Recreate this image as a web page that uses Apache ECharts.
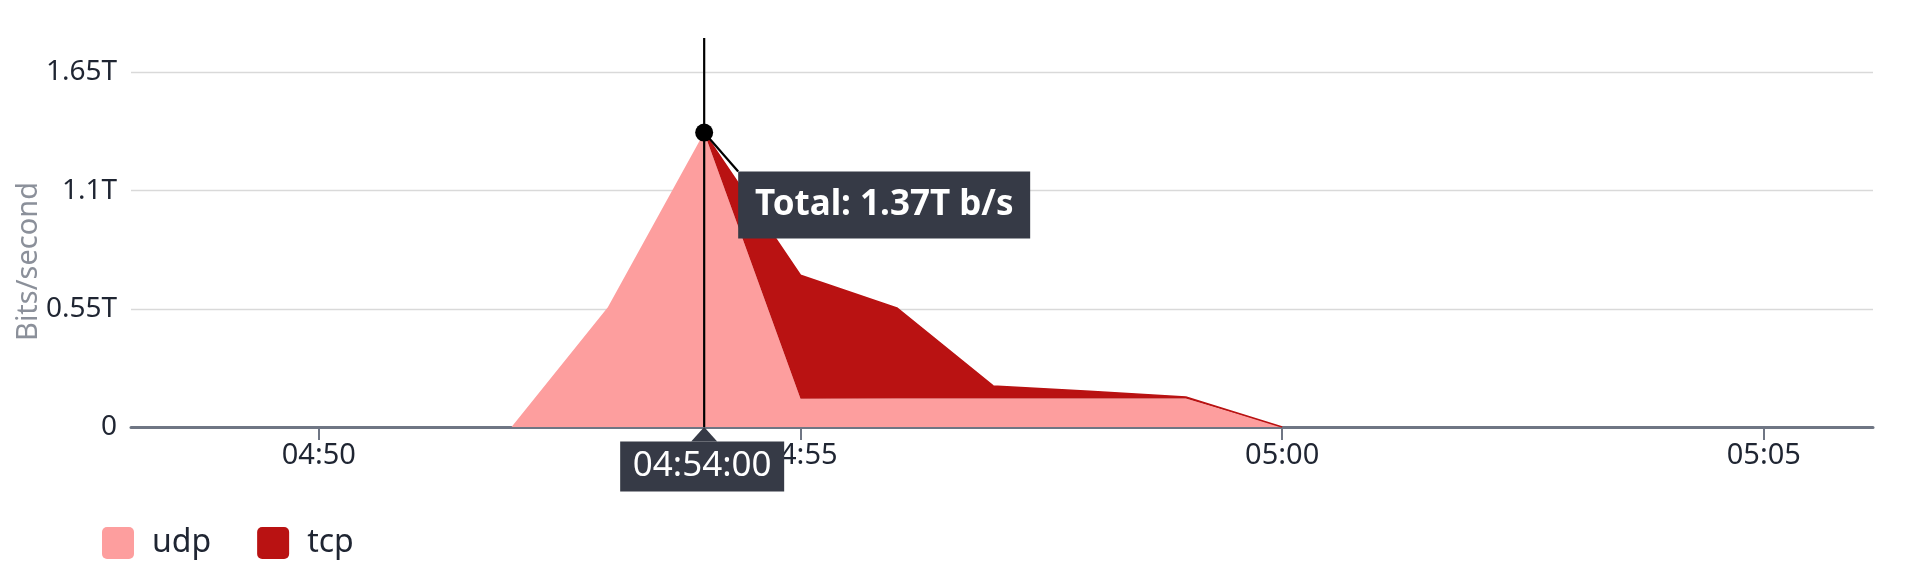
<!DOCTYPE html>
<html><head><meta charset="utf-8">
<script src="https://cdn.jsdelivr.net/npm/echarts@6/dist/echarts.min.js"></script>
<style>html,body{margin:0;padding:0;background:#fff}#c{width:1920px;height:586px}</style>
</head><body><div id="c"></div>
<script>
// ---- data (values in T bits/second) ----
const times = ['04:52','04:53','04:54','04:55','04:56','04:57','04:58','04:59','05:00'];
const udp   = [0, 0.557, 1.37, 0.132, 0.133, 0.133, 0.133, 0.133, 0];
const tcp   = [null, null, 0, 0.574, 0.421, 0.058, 0.033, 0.007, 0];
const xTickLabels = ['04:50','04:55','05:00','05:05'];
const yTickValues = [0, 0.55, 1.1, 1.65];
const xRange = ['04:48:03','05:06:08'];
const yMax = 1.81;
const hoverIndex = 2;
const seriesNames = ['udp','tcp'];

const PINK = '#fd9e9e', RED = '#b91212', DARK = '#363a46', TXT = '#1f2532';
const FONT = '"Noto Sans", "Open Sans", sans-serif';
const ICON = 'path://M5,0H27A5,5,0,0,1,32,5V27A5,5,0,0,1,27,32H5A5,5,0,0,1,0,27V5A5,5,0,0,1,5,0Z';
const toMs = s => { const p = s.split(':').map(Number); return new Date(2024,0,15,p[0],p[1],p[2]||0).getTime(); };
const pad2 = n => (n < 10 ? '0' : '') + n;
const hhmm = v => { const d = new Date(v); return pad2(d.getHours()) + ':' + pad2(d.getMinutes()); };
const hhmmss = v => { const d = new Date(v); return hhmm(v) + ':' + pad2(d.getSeconds()); };

const chart = echarts.init(document.getElementById('c'), null, {renderer:'canvas'});
const fmtT = v => v === 0 ? '0' : parseFloat(v.toFixed(2)) + 'T';
const tickSet = xTickLabels.map(toMs);

chart.setOption({
  animation: false,
  textStyle: {fontFamily: FONT},
  grid: {left: 131, right: 47, top: 38, bottom: 159, containLabel: false},
  legend: {
    data: seriesNames, left: 102, top: 527, padding: 0, itemWidth: 32, itemHeight: 32, itemGap: 46,
    icon: ICON, lineStyle: {width: 0, opacity: 0},
    textStyle: {fontSize: 32, color: TXT, padding: [0,0,0,13], fontFamily: FONT}
  },
  xAxis: {
    type: 'time', min: toMs(xRange[0]), max: toMs(xRange[1]), splitNumber: 3,
    axisLine: {lineStyle: {color: '#6f7684', width: 3}},
    axisTick: {show: true, length: 13, lineStyle: {color: '#6f7684', width: 2}},
    axisLabel: {fontSize: 29, color: TXT, margin: 14, fontFamily: FONT,
      showMinLabel: false, showMaxLabel: false,
      formatter: v => tickSet.indexOf(v) >= 0 ? hhmm(v) : ''},
    splitLine: {show: false}
  },
  yAxis: {
    type: 'value', min: 0, max: yMax, interval: yTickValues[1] - yTickValues[0],
    name: 'Bits/second', nameLocation: 'middle', nameGap: 88, nameMoveOverlap: false,
    nameTextStyle: {fontSize: 29, color: '#8b909a', fontFamily: FONT, padding: [0, 58, 0, 0]},
    axisLine: {show: false}, axisTick: {show: false},
    axisLabel: {fontSize: 28, color: TXT, margin: 14, showMaxLabel: false, fontFamily: FONT, formatter: fmtT},
    splitLine: {show: true, showMaxLine: false, lineStyle: {color: '#d9d9d9', width: 1.3}}
  },
  series: [
    {name: 'udp', type: 'line', stack: 'total', showSymbol: false, silent: true,
     data: times.map((t,i) => [toMs(t), udp[i]]),
     itemStyle: {color: PINK}, lineStyle: {width: 0, color: PINK}, areaStyle: {color: PINK, opacity: 1}},
    {name: 'tcp', type: 'line', stack: 'total', showSymbol: false, silent: true,
     data: times.map((t,i) => [toMs(t), tcp[i]]),
     itemStyle: {color: RED}, lineStyle: {width: 1.5, color: RED}, areaStyle: {color: RED, opacity: 1}}
  ]
});

// hover annotation (crosshair, point, tooltip) placed through the chart's own scales
const hT = toMs(times[hoverIndex]);
const total = (udp[hoverIndex] || 0) + (tcp[hoverIndex] || 0);
const pk = chart.convertToPixel({gridIndex: 0}, [hT, total]);
const base = chart.convertToPixel({gridIndex: 0}, [hT, 0]);
const topPt = chart.convertToPixel({gridIndex: 0}, [hT, yMax]);
const px = pk[0], py = pk[1], by = base[1];
const boxX = px + 34, boxY = py + 39, boxW = 292, boxH = 67;
const lbW = 164, lbH = 50, triH = 14.5;
chart.setOption({
  graphic: {elements: [
    {type: 'line', z: 100, shape: {x1: px, y1: topPt[1], x2: px, y2: by}, style: {stroke: '#000', lineWidth: 2.2}},
    {type: 'line', z: 100, shape: {x1: px, y1: py, x2: boxX, y2: boxY}, style: {stroke: '#000', lineWidth: 2.2}},
    {type: 'circle', z: 101, shape: {cx: px, cy: py, r: 9}, style: {fill: '#000'}},
    {type: 'rect', z: 102, shape: {x: boxX, y: boxY, width: boxW, height: boxH}, style: {fill: DARK}},
    {type: 'text', z: 103, x: boxX + boxW/2, y: boxY + boxH/2,
     style: {text: 'Total: ' + parseFloat(total.toFixed(2)) + 'T b/s', fill: '#fff', fontSize: 35, fontWeight: 'bold',
             fontFamily: FONT, align: 'center', verticalAlign: 'middle'}},
    {type: 'polygon', z: 102, shape: {points: [[px, by], [px - 13, by + triH], [px + 13, by + triH]]}, style: {fill: DARK}},
    {type: 'rect', z: 102, shape: {x: px - 2 - lbW/2, y: by + triH, width: lbW, height: lbH}, style: {fill: DARK}},
    {type: 'text', z: 103, x: px - 2, y: by + triH + lbH/2,
     style: {text: hhmmss(hT), fill: '#fff', fontSize: 35,
             fontFamily: FONT, align: 'center', verticalAlign: 'middle'}}
  ]}
});
</script></body></html>
